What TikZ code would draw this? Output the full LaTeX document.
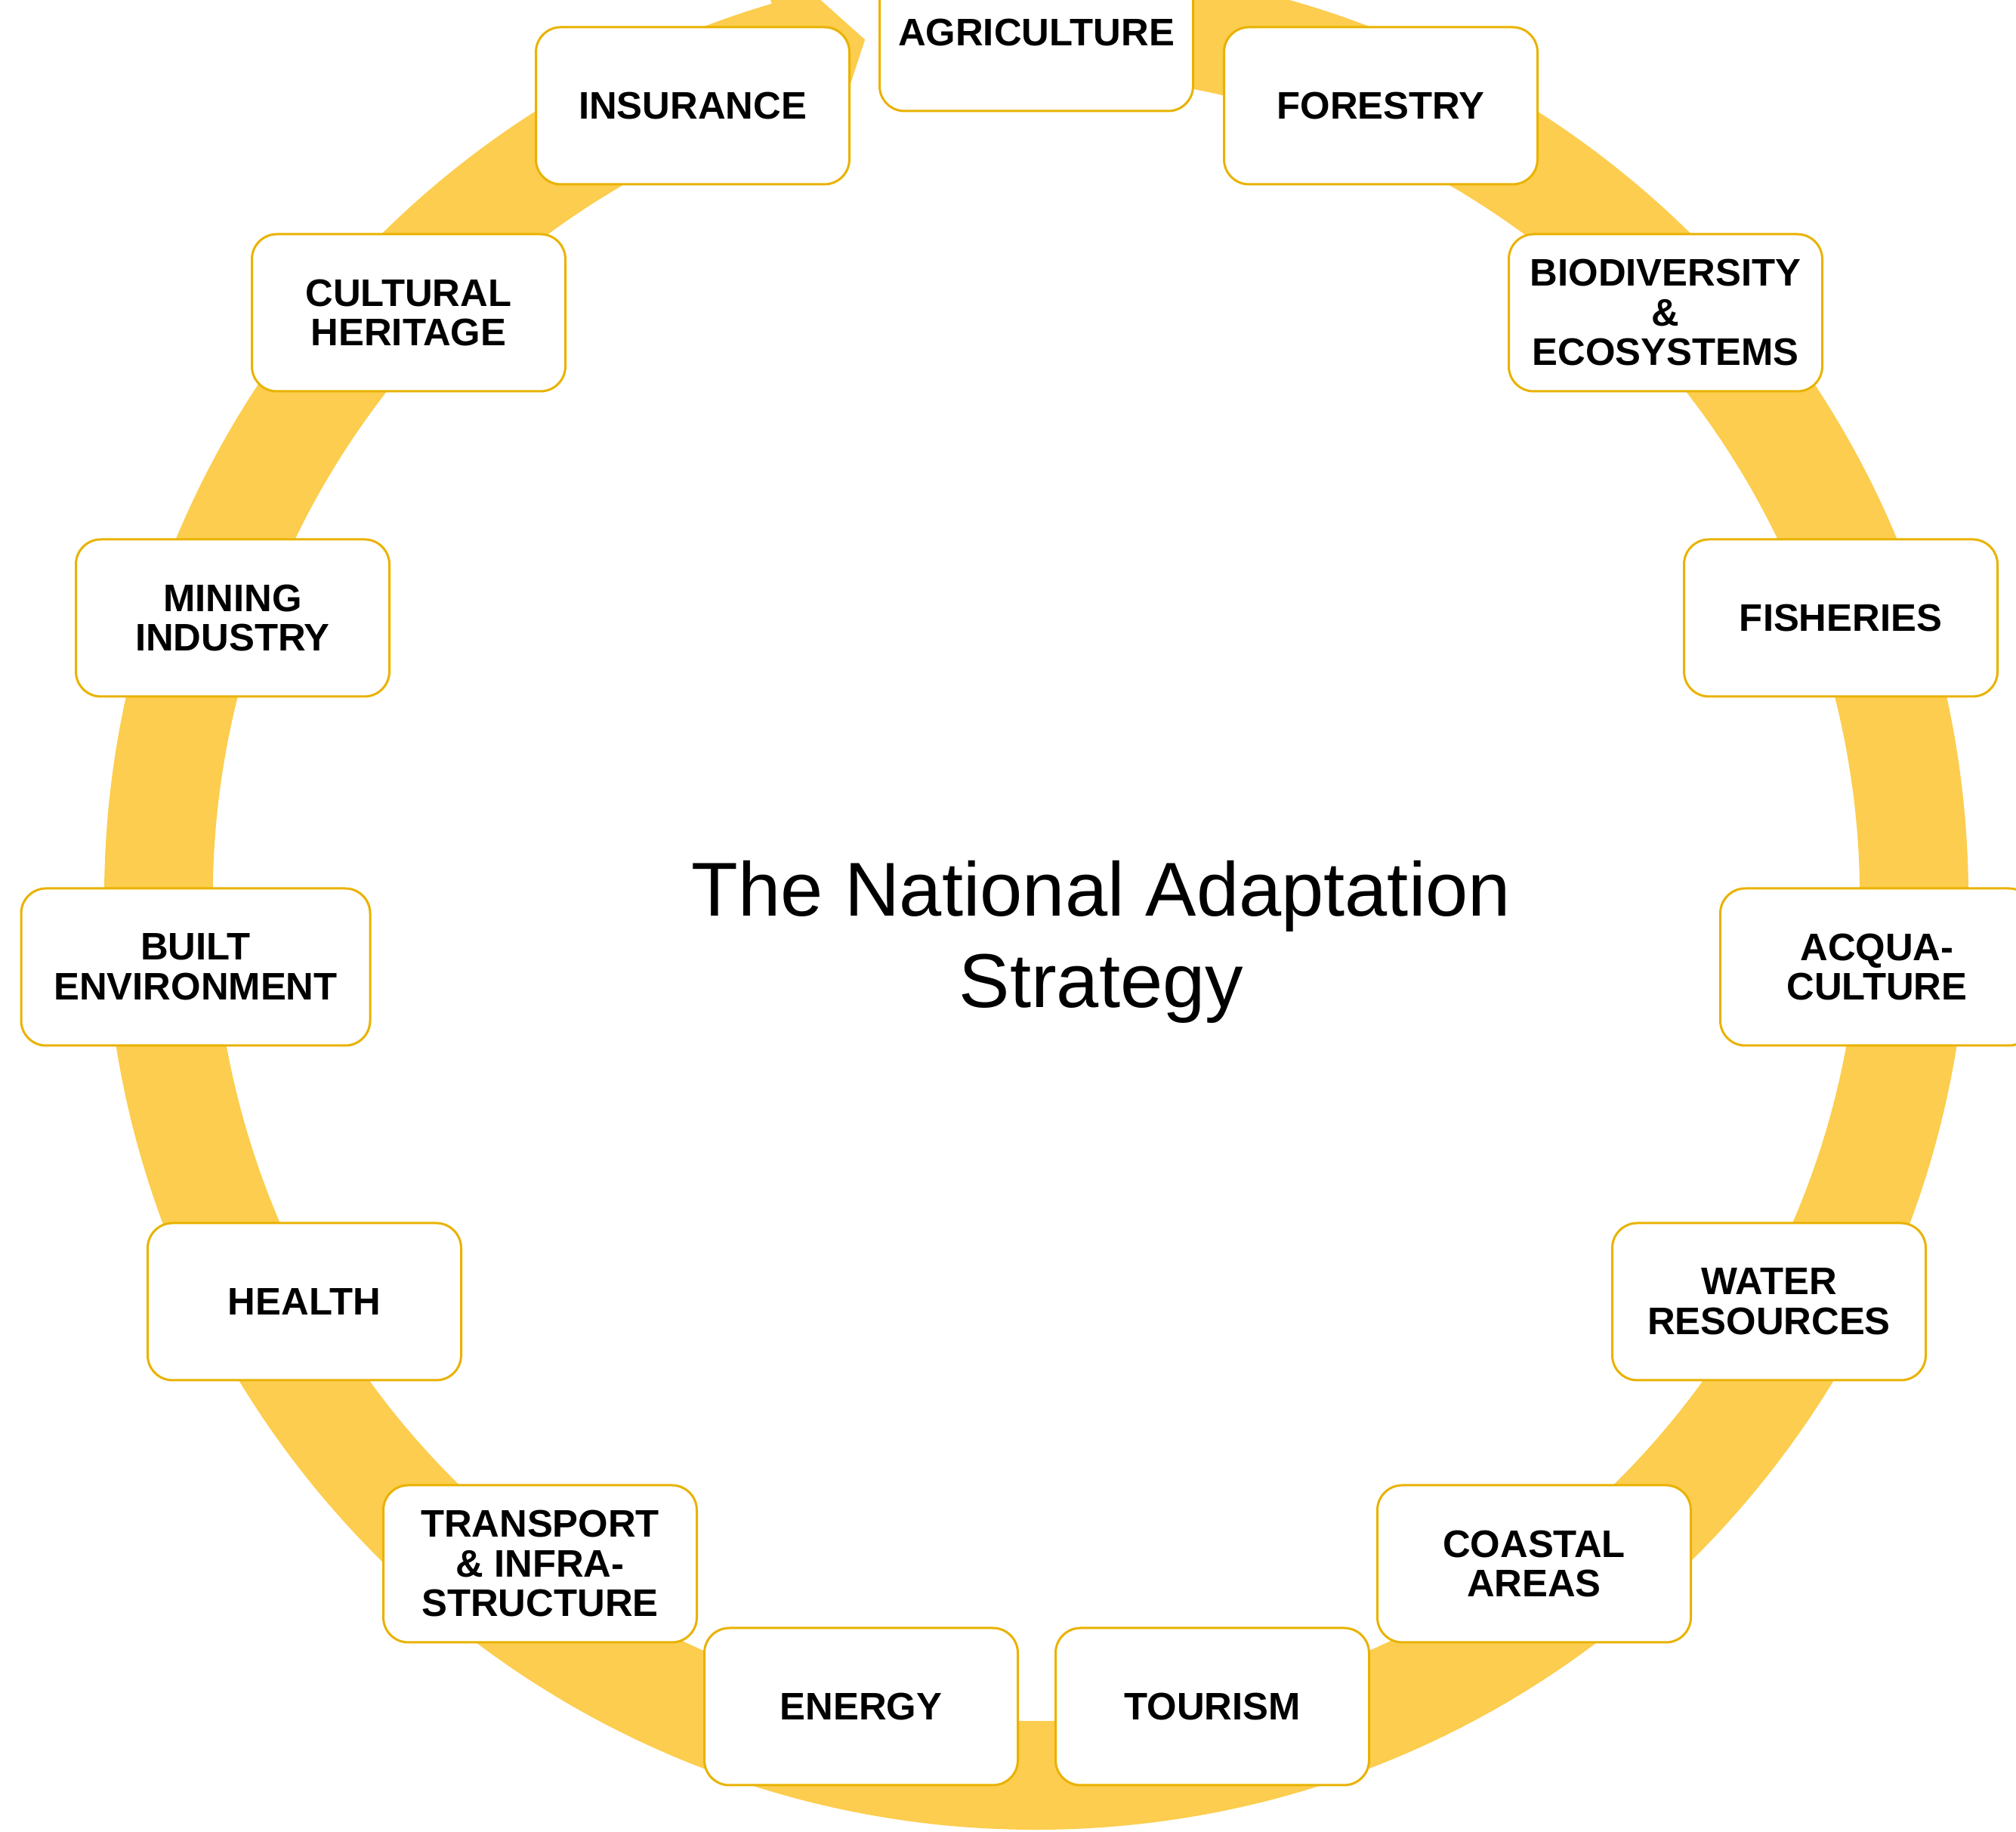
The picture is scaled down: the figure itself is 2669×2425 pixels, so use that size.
\documentclass[tikz,border=0pt]{standalone}
\usepackage{fontspec}
\setmainfont{Liberation Sans}
\definecolor{ringyellow}{RGB}{252,205,78}
\definecolor{boxgold}{RGB}{233,178,0}
\tikzset{
  sectorbox/.style={draw=boxgold, line width=0.3mm, fill=white, rounded corners=3.3mm,
    minimum width=41.5mm, minimum height=20.8mm, align=center, inner sep=0pt,
    font=\bfseries\fontsize{14.45pt}{14.94pt}\selectfont},
  widesectorbox/.style={sectorbox, minimum width=46.2mm},
  titletext/.style={align=center, inner sep=0pt, font=\fontsize{28.75pt}{34.4pt}\selectfont}
}
\begin{document}
\begin{tikzpicture}[x=0.1mm,y=0.1mm]
\useasboundingbox (0,0) rectangle (2669,2425);
\coordinate (C) at (1372,1237);
% circular arrow ring
\fill[ringyellow] ([shift={(93:1234)}]C) arc[start angle=93, end angle=-253.5, radius=1234]
  -- ([shift={(106.5:1323)}]C) -- ([shift={(101.3:1158)}]C) -- ([shift={(106.5:1001)}]C)
  -- ([shift={(106.5:1090)}]C) arc[start angle=106.5, end angle=453, radius=1090] -- cycle;
% sectors
\node[sectorbox] (agri) at (1372,2382) {AGRICULTURE};
\node[sectorbox] (insur) at (917,2285) {INSURANCE};
\node[sectorbox] (forest) at (1828,2285) {FORESTRY};
\node[sectorbox] (cult) at (541,2011) {CULTURAL\\HERITAGE};
\node[sectorbox] (bio) at (2205,2011) {BIODIVERSITY\\\&\\ECOSYSTEMS};
\node[sectorbox] (mining) at (308,1607) {MINING\\INDUSTRY};
\node[sectorbox] (fish) at (2437,1607) {FISHERIES};
\node[widesectorbox] (built) at (259,1145) {BUILT\\ENVIRONMENT};
\node[sectorbox] (acqua) at (2485,1145) {ACQUA-\\CULTURE};
\node[sectorbox] (health) at (403,702) {HEALTH};
\node[sectorbox] (water) at (2342,702) {WATER\\RESOURCES};
\node[sectorbox] (transport) at (715,355) {TRANSPORT\\\& INFRA-\\STRUCTURE};
\node[sectorbox] (coastal) at (2031,355) {COASTAL\\AREAS};
\node[sectorbox] (energy) at (1140,166) {ENERGY};
\node[sectorbox] (tourism) at (1605,166) {TOURISM};
% title
\node[titletext] (title) at (1458,1178) {The National Adaptation\\Strategy};
\end{tikzpicture}
\end{document}
